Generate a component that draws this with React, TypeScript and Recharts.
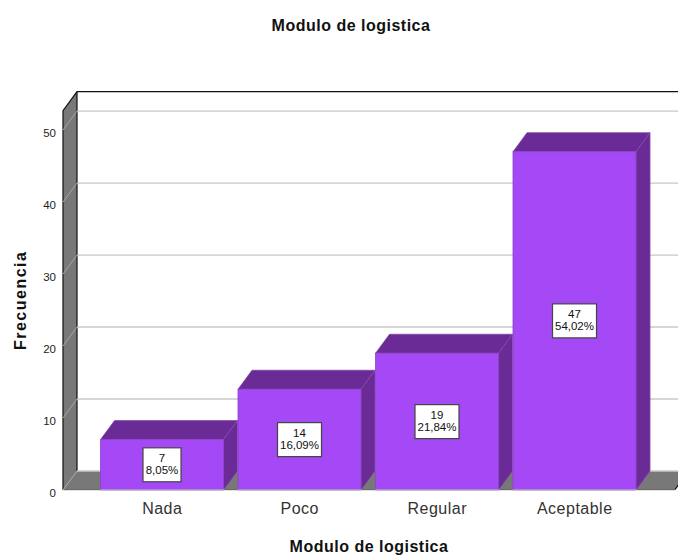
import { Bar, BarChart, LabelList, ReferenceArea, ReferenceLine, XAxis, YAxis } from "recharts"

const categories = ["Nada", "Poco", "Regular", "Aceptable"]
const frequencies = [7, 14, 19, 47]
const percents = ["8,05%", "16,09%", "21,84%", "54,02%"]
const yTicks = [0, 10, 20, 30, 40, 50]
const chartTitle = "Modulo de logistica"

const data = categories.map((name, i) => ({ name, value: frequencies[i], percent: percents[i] }))

const FONT = "'Liberation Sans', Arial, sans-serif"
// offset of the back plane from the front plane
const DX = 14
const DY = 19
const PAD_LEFT = 30.5
const PAD_RIGHT = 31.5
const FRONT = "#a548f5"
const DARK = "#6a2b97"
const WALL = "#787878"

function Box({ x: bandX, y, width: bandW, height }: any) {
  const x = bandX - PAD_LEFT
  const right = bandX + bandW + PAD_RIGHT
  const bottom = y + height
  return (
    <g>
      <polygon points={`${x},${y} ${x + DX},${y - DY} ${x + DX},${bottom - DY} ${x},${bottom}`} fill={WALL} />
      <polygon points={`${x},${bottom} ${x + DX},${bottom - DY} ${right + DX},${bottom - DY} ${right},${bottom}`} fill={WALL} />
      <path
        d={`M${x},${bottom} V${y} L${x + DX},${y - DY} H${right + DX} M${x + DX},${y - DY} V${bottom - DY} M${x},${bottom - 0.5} H${right} L${right + 5},${bottom - 7}`}
        fill="none"
        stroke="#111"
        strokeWidth={1.2}
      />
    </g>
  )
}

function GridLine({ x1, x2, y1 }: any) {
  return (
    <g>
      <line x1={x1} y1={y1} x2={x1 + DX} y2={y1 - DY} stroke="#a8a8a8" strokeWidth={1} />
      <line x1={x1 + DX} y1={y1 - DY} x2={x2 + DX} y2={y1 - DY} stroke="#c8c8c8" strokeWidth={1.4} />
    </g>
  )
}

function Bar3D({ x, y, width, height }: any) {
  const right = x + width
  const bottom = y + height
  return (
    <g>
      <polygon points={`${x},${y} ${x + DX},${y - DY} ${right + DX},${y - DY} ${right},${y}`} fill={DARK} stroke="#7d4aa6" strokeWidth={0.8} />
      <polygon points={`${right},${y} ${right + DX},${y - DY} ${right + DX},${bottom - DY} ${right},${bottom}`} fill={DARK} stroke="#7d4aa6" strokeWidth={0.8} />
      <rect x={x} y={y} width={width} height={height} fill={FRONT} stroke="#8a45c4" strokeWidth={0.8} />
    </g>
  )
}

function ValueBox({ x, y, width, height, index }: any) {
  const cx = x + width / 2
  const cy = y + height / 2
  const boxW = percents[index].length > 5 ? 44 : 38
  return (
    <g fontFamily={FONT} fontSize={11.5} fill="#111" textAnchor="middle">
      <rect x={cx - boxW / 2} y={cy - 17} width={boxW} height={34} fill="#fff" stroke="#444" strokeWidth={1.2} />
      <text x={cx} y={cy - 3}>{frequencies[index]}</text>
      <text x={cx} y={cy + 9.5}>{percents[index]}</text>
    </g>
  )
}

export default function App() {
  return (
    <div style={{ position: "absolute", left: 0, top: 0 }}>
      <BarChart
        width={678}
        height={556}
        data={data}
        barSize={123}
        margin={{ top: 110.7, right: 3, bottom: 0, left: 0 }}
      >
        <ReferenceArea y1={0} y2={52.7} shape={Box} ifOverflow="visible" zIndex={100} />
        {yTicks.map((t) => (
          <ReferenceLine key={t} y={t} shape={GridLine} ifOverflow="visible" zIndex={200} />
        ))}
        <XAxis
          dataKey="name"
          height={66}
          padding={{ left: PAD_LEFT, right: PAD_RIGHT }}
          tickLine={false}
          axisLine={{ stroke: "#c4c4c4", strokeWidth: 1 }}
          tickMargin={7}
          tick={{ fontFamily: FONT, fontSize: 16, fill: "#333", letterSpacing: 0.5 }}
          label={{
            value: chartTitle,
            position: "insideBottom",
            offset: 4,
            fontFamily: FONT,
            fontSize: 16,
            fontWeight: 700,
            fill: "#111",
            letterSpacing: 0.5,
          }}
        />
        <YAxis
          width={63}
          domain={[0, 52.7]}
          ticks={yTicks}
          tickLine={false}
          axisLine={false}
          tickMargin={1}
          tick={{ fontFamily: FONT, fontSize: 11.5, fill: "#222", dy: 2.5 }}
          label={{
            value: "Frecuencia",
            angle: -90,
            position: "insideLeft",
            offset: 20,
            fontFamily: FONT,
            fontSize: 16,
            fontWeight: 700,
            fill: "#111",
            letterSpacing: 1.5,
            style: { textAnchor: "middle" },
          }}
        />
        <Bar dataKey="value" shape={Bar3D} isAnimationActive={false} zIndex={300}>
          <LabelList dataKey="value" content={ValueBox} />
        </Bar>
        <text x={351} y={31} textAnchor="middle" fontFamily={FONT} fontSize={16} fontWeight={700} fill="#111" letterSpacing={0.5}>
          {chartTitle}
        </text>
      </BarChart>
    </div>
  )
}
